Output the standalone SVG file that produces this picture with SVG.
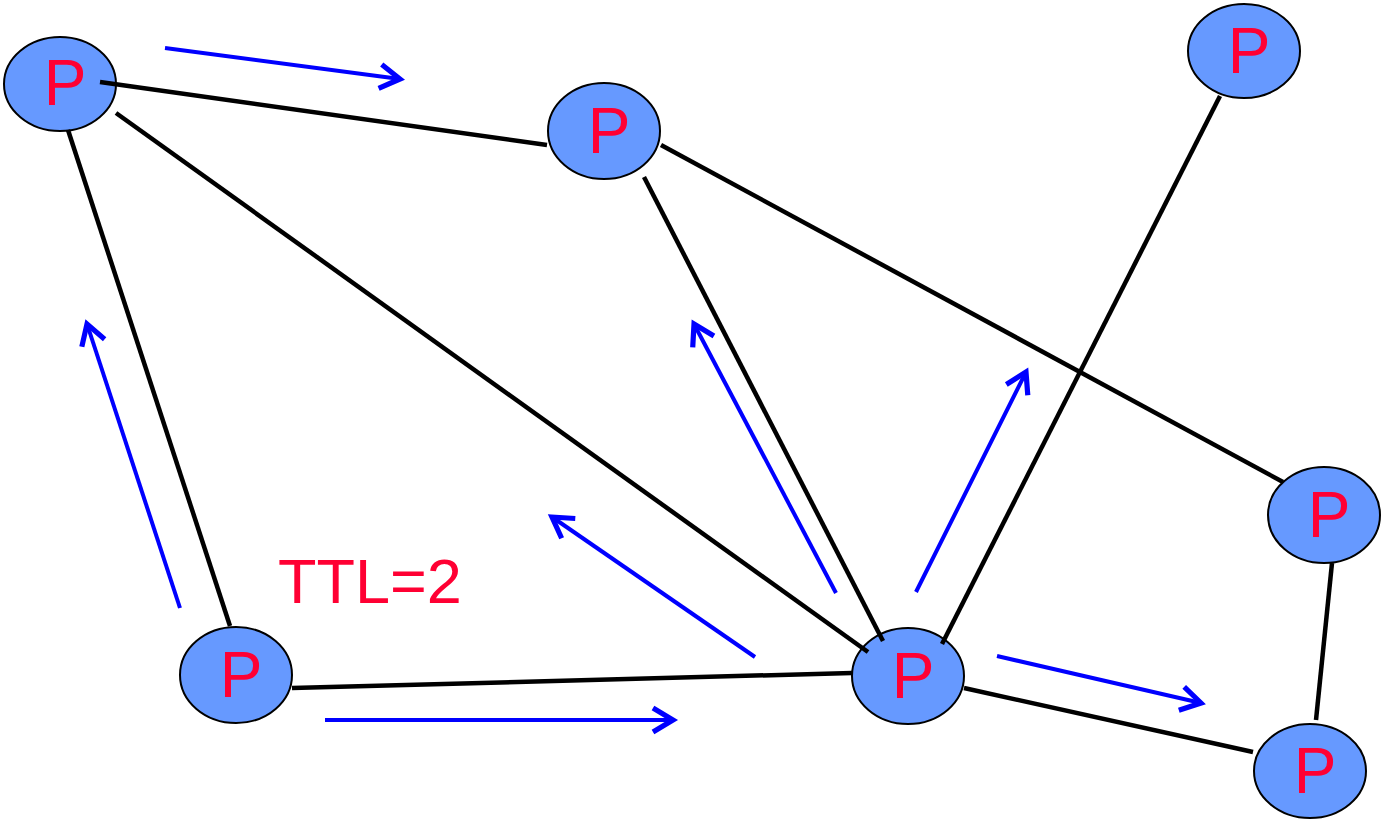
<svg xmlns="http://www.w3.org/2000/svg" width="1383" height="822" viewBox="0 0 1383 822">
  <style>
    .peer ellipse { fill: #6699ff; stroke: #000; stroke-width: 2; }
    .peer text { font-family: "Liberation Sans", Arial, sans-serif; font-size: 64px; fill: #ff0033; text-anchor: middle; }
    .link { stroke: #000; stroke-width: 4.5; fill: none; }
    .query { stroke: #0000ff; stroke-width: 4; fill: none; marker-end: url(#head); }
    .label { font-family: "Liberation Sans", Arial, sans-serif; font-size: 63px; fill: #ff0033; }
  </style>
  <defs>
    <marker id="head" markerWidth="8" markerHeight="8" refX="6" refY="4" orient="auto" markerUnits="strokeWidth" viewBox="0 0 8 8">
      <polyline points="1,1 6,4 1,7" fill="none" stroke="#0000ff" stroke-width="1.3" stroke-linejoin="miter"/>
    </marker>
  </defs>
  <rect width="1383" height="822" fill="#fff"/>

  <g id="peer1" class="peer"><ellipse cx="60" cy="84" rx="56" ry="47"/><text x="65" y="105">P</text></g>
  <g id="peer2" class="peer"><ellipse cx="604" cy="131" rx="56" ry="48"/><text x="609" y="153">P</text></g>
  <g id="peer3" class="peer"><ellipse cx="1244" cy="51" rx="56" ry="47"/><text x="1249" y="73">P</text></g>
  <g id="peer4" class="peer"><ellipse cx="1324" cy="515" rx="56" ry="48"/><text x="1329" y="537">P</text></g>
  <g id="peer5" class="peer"><ellipse cx="1310" cy="771" rx="56" ry="47"/><text x="1315" y="793">P</text></g>
  <g id="peer6" class="peer"><ellipse cx="908" cy="676" rx="56" ry="48"/><text x="913" y="698">P</text></g>
  <g id="peer7" class="peer"><ellipse cx="236" cy="675" rx="56" ry="48"/><text x="241" y="697">P</text></g>

  <!-- overlay links between peers, drawn over the peer outlines -->
  <g id="links">
    <line class="link" x1="100" y1="82" x2="547" y2="145"/>
    <line class="link" x1="116" y1="113" x2="868" y2="652"/>
    <line class="link" x1="68" y1="130" x2="230" y2="626"/>
    <line class="link" x1="661" y1="145" x2="1283" y2="482"/>
    <line class="link" x1="644" y1="177" x2="883" y2="641"/>
    <line class="link" x1="1220" y1="96" x2="942" y2="644"/>
    <line class="link" x1="1332" y1="563" x2="1316" y2="720"/>
    <line class="link" x1="292" y1="688" x2="852" y2="673"/>
    <line class="link" x1="964" y1="688" x2="1253" y2="752"/>
  </g>

  <!-- query flooding directions -->
  <g id="queries">
    <line class="query" x1="165" y1="48" x2="400" y2="79"/>
    <line class="query" x1="180" y1="608" x2="87" y2="324"/>
    <line class="query" x1="325" y1="720" x2="673" y2="720"/>
    <line class="query" x1="755" y1="657" x2="552" y2="517"/>
    <line class="query" x1="836" y1="593" x2="694" y2="324"/>
    <line class="query" x1="916" y1="592" x2="1026" y2="372"/>
    <line class="query" x1="997" y1="656" x2="1201" y2="703"/>
  </g>

  <text class="label" x="278" y="603">TTL=2</text>
</svg>
